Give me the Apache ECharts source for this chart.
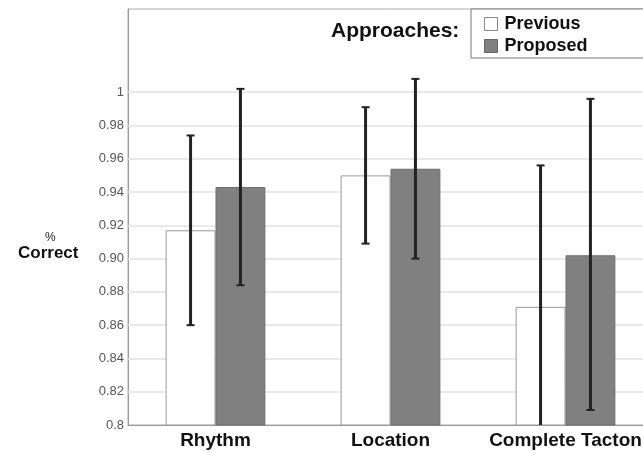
<!DOCTYPE html>
<html>
<head>
<meta charset="utf-8">
<script src="https://cdn.jsdelivr.net/npm/echarts@6/dist/echarts.min.js"></script>
<style>
  html, body { margin: 0; padding: 0; background: #fff; overflow: hidden; }
  #main { width: 680px; height: 453px; }
</style>
</head>
<body>
<div id="main"></div>
<script>
// categories and values
var categories = ['Rhythm', 'Location', 'Complete Tacton'];
var previous = [0.917, 0.950, 0.871];
var proposed = [0.943, 0.954, 0.902];
// error bars: upper / lower ends
var previousHi = [0.974, 0.991, 0.956];
var previousLo = [0.860, 0.909, 0.787];
var proposedHi = [1.002, 1.008, 0.996];
var proposedLo = [0.884, 0.900, 0.809];
// y tick labels as printed
var yTicks = ['0.8', '0.82', '0.84', '0.86', '0.88', '0.90', '0.92', '0.94', '0.96', '0.98', '1'];
var gridValues = [0.82, 0.84, 0.86, 0.88, 0.90, 0.92, 0.94, 0.96, 0.98, 1.0];

var BAR_FRAC = 0.285;

function errRows(hi, lo) {
    var rows = [];
    for (var i = 0; i < hi.length; i++) rows.push([i, hi[i], lo[i]]);
    return rows;
}

function errorBar(sign) {
    return function (params, api) {
        var band = api.size([1, 0])[0];
        var dx = sign * band * BAR_FRAC / 2;
        var top = api.coord([api.value(0), api.value(1)]);
        var bot = api.coord([api.value(0), api.value(2)]);
        var cs = params.coordSys;
        var x = top[0] + dx;
        var y1 = Math.max(top[1], cs.y);
        var y2 = Math.min(bot[1], cs.y + cs.height);
        var cap = 4;
        var children = [
            { type: 'line', shape: { x1: x, y1: y1, x2: x, y2: y2 }, style: { stroke: '#222', lineWidth: 3 } }
        ];
        if (top[1] >= cs.y) {
            children.push({ type: 'line', shape: { x1: x - cap, y1: top[1], x2: x + cap, y2: top[1] }, style: { stroke: '#222', lineWidth: 2 } });
        }
        if (bot[1] <= cs.y + cs.height) {
            children.push({ type: 'line', shape: { x1: x - cap, y1: bot[1], x2: x + cap, y2: bot[1] }, style: { stroke: '#222', lineWidth: 2 } });
        }
        return { type: 'group', children: children };
    };
}

var myChart = echarts.init(document.getElementById('main'));
myChart.setOption({
    animation: false,
    backgroundColor: '#fff',
    textStyle: { fontFamily: 'Liberation Sans, Arial, sans-serif' },
    title: {
        text: 'Approaches:',
        left: 331,
        top: 21,
        padding: 0,
        textStyle: { fontSize: 21, fontWeight: 'bold', color: '#111' }
    },
    legend: {
        orient: 'vertical',
        left: 471,
        top: 9,
        padding: [6, 80, 3, 13],
        itemWidth: 13,
        itemHeight: 13,
        itemGap: 4,
        borderColor: '#777',
        borderWidth: 1,
        backgroundColor: '#fff',
        textStyle: { fontSize: 18, fontWeight: 'bold', color: '#111', padding: [0, 0, 0, 2] },
        data: [
            { name: 'Previous', icon: 'rect', itemStyle: { color: '#fff', borderColor: '#888', borderWidth: 1 } },
            { name: 'Proposed', icon: 'rect', itemStyle: { color: '#808080', borderColor: '#666', borderWidth: 1 } }
        ]
    },
    graphic: [
        { type: 'text', left: 45, top: 232, style: { text: '%', fontSize: 12, fill: '#222', fontFamily: 'Liberation Sans, Arial, sans-serif' } },
        { type: 'text', left: 18, top: 245, style: { text: 'Correct', fontSize: 17, fontWeight: 'bold', fill: '#111', fontFamily: 'Liberation Sans, Arial, sans-serif' } }
    ],
    grid: {
        left: 128,
        top: 9,
        width: 525,
        height: 416,
        show: true,
        borderColor: '#aaa',
        borderWidth: 1,
        backgroundColor: '#fff'
    },
    xAxis: {
        type: 'category',
        data: categories,
        axisLine: { lineStyle: { color: '#999', width: 1 } },
        axisTick: { show: false },
        axisLabel: { interval: 0, margin: 6, fontSize: 19, fontWeight: 'bold', color: '#111' }
    },
    yAxis: {
        type: 'value',
        min: 0.8,
        max: 1.05,
        interval: 0.02,
        axisLine: { show: true, lineStyle: { color: '#999', width: 1 } },
        axisTick: { show: false },
        splitLine: { show: false },
        axisLabel: {
            margin: 4,
            fontSize: 13,
            color: '#555',
            showMaxLabel: false,
            formatter: function (v) {
                if (v > 1.0001) return '';
                return yTicks[Math.round((v - 0.8) / 0.02)];
            }
        }
    },
    series: [
        {
            name: 'gridlines',
            type: 'line',
            data: [],
            zlevel: 0,
            z: 1,
            markLine: {
                silent: true,
                symbol: 'none',
                label: { show: false },
                lineStyle: { color: '#e2e2e2', type: 'solid', width: 1.5 },
                data: gridValues.map(function (v) { return { yAxis: v }; })
            }
        },
        {
            name: 'Previous',
            type: 'bar',
            zlevel: 1,
            data: previous,
            barWidth: (BAR_FRAC * 100) + '%',
            barGap: '0%',
            itemStyle: { color: '#fff', borderColor: '#999', borderWidth: 1 }
        },
        {
            name: 'Proposed',
            type: 'bar',
            zlevel: 1,
            data: proposed,
            barWidth: (BAR_FRAC * 100) + '%',
            barGap: '0%',
            itemStyle: { color: '#808080', borderColor: '#6e6e6e', borderWidth: 1 }
        },
        {
            name: 'prevErr',
            type: 'custom',
            zlevel: 1,
            z: 3,
            renderItem: errorBar(-1),
            encode: { x: 0, y: [1, 2] },
            data: errRows(previousHi, previousLo)
        },
        {
            name: 'propErr',
            type: 'custom',
            zlevel: 1,
            z: 3,
            renderItem: errorBar(1),
            encode: { x: 0, y: [1, 2] },
            data: errRows(proposedHi, proposedLo)
        }
    ]
});
</script>
</body>
</html>
